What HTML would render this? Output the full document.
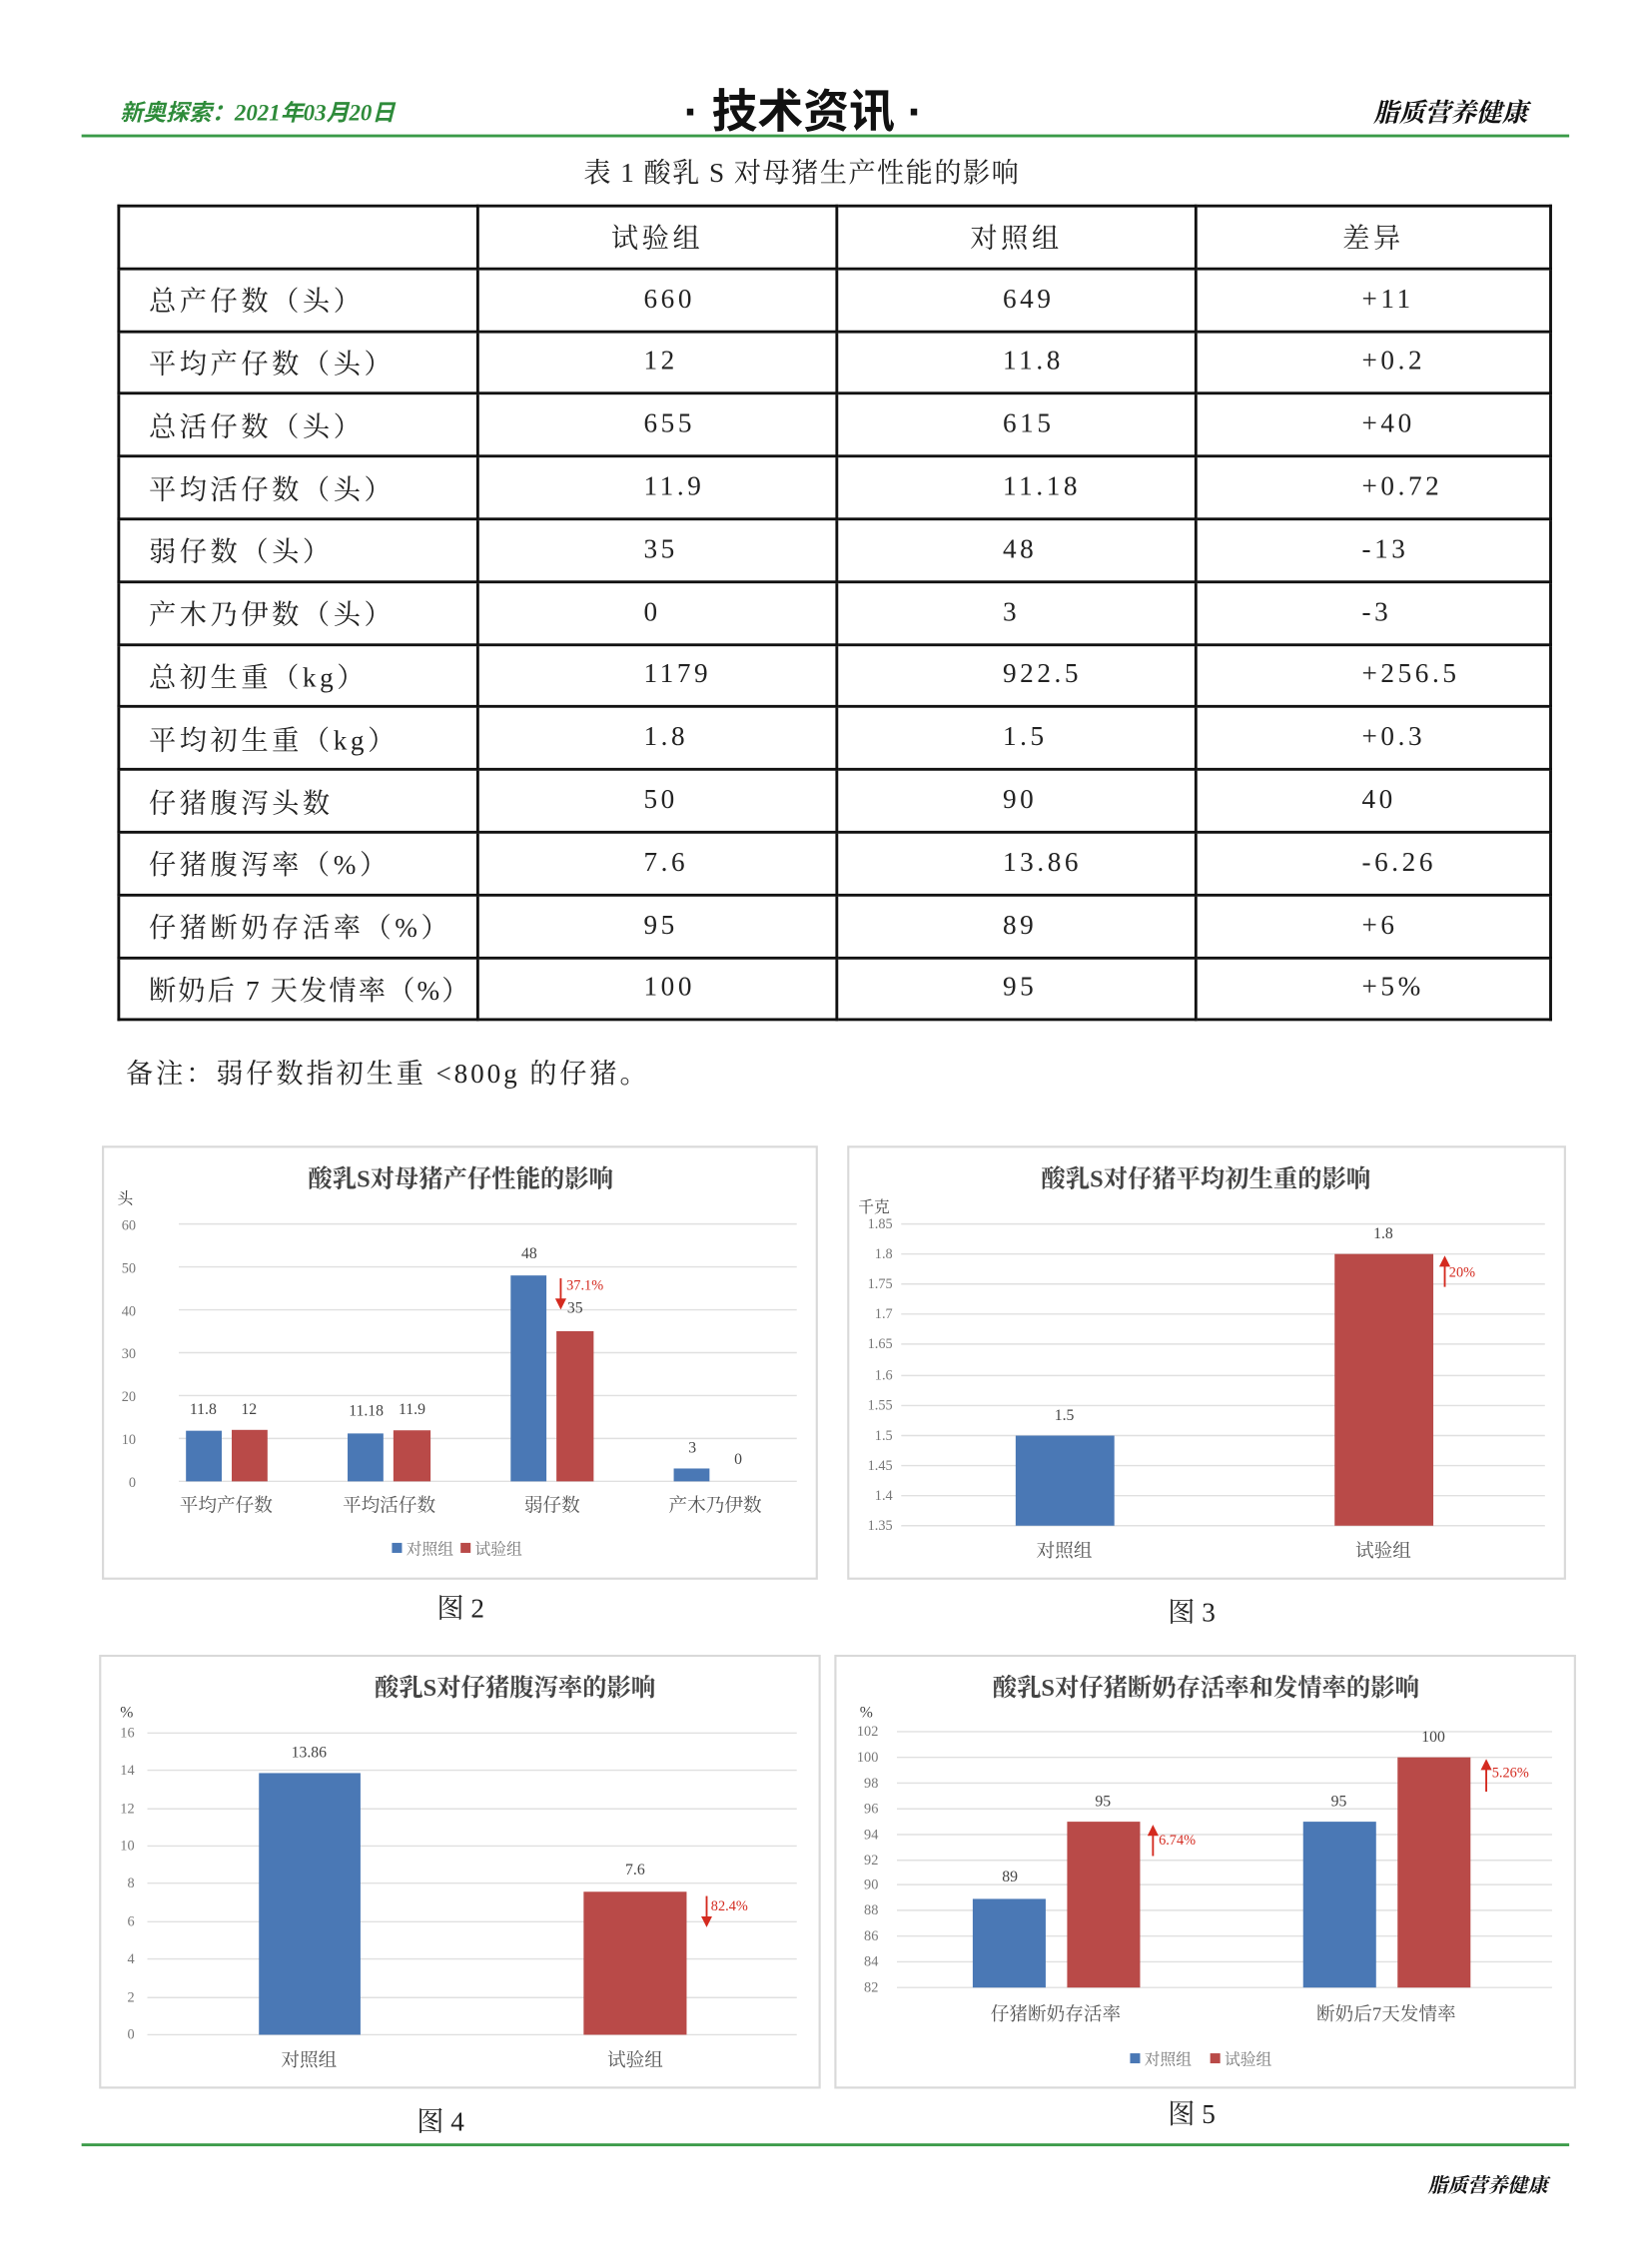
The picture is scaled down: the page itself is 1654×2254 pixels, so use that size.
<!DOCTYPE html>
<html><head><meta charset="utf-8">
<style>
html,body{margin:0;padding:0;background:#fff;}
body{width:1654px;height:2245px;overflow:hidden;position:relative;}
#w{position:absolute;left:0;top:0;width:1160px;height:1574px;transform:scale(1.4322,1.4318);transform-origin:0 0;font-family:"Liberation Serif","Noto Serif CJK SC",serif;color:#222;}
.a{position:absolute;white-space:nowrap;}
table{position:absolute;left:82px;top:143px;width:1003px;border-collapse:collapse;table-layout:fixed;}
tr{height:43.8px;}
td{border:2px solid #111;font-size:19px;letter-spacing:2.5px;padding:0;white-space:nowrap;overflow:hidden;}
td.l{padding-left:20px;}
td.v{padding-left:115px;}
tr.h td{text-align:center;}
svg{position:absolute;left:0;top:0;}
</style></head><body><div id="w">
<div class="a" style="left:84px;top:65px;font-size:16px;color:#2e8b3a;font-style:italic;font-weight:bold;font-family:'Liberation Serif','Noto Sans CJK SC',serif;">新奥探索：2021年03月20日</div>
<div class="a" style="left:478px;top:53px;font-size:32px;font-weight:bold;font-family:'Liberation Sans','Noto Sans CJK SC',sans-serif;color:#111;">· 技术资讯 ·</div>
<div class="a" style="left:960px;top:65px;font-size:18px;font-style:italic;font-weight:bold;color:#111;">脂质营养健康</div>
<div class="a" style="left:57px;top:94px;width:1040px;height:2px;background:#3a9a48;"></div>
<div class="a" style="left:408px;top:106px;font-size:19px;letter-spacing:1px;">表 1 酸乳 S 对母猪生产性能的影响</div>
<table>
<colgroup><col style="width:251px"><col style="width:251px"><col style="width:251px"><col></colgroup>
<tr class="h"><td></td><td>试验组</td><td>对照组</td><td>差异</td></tr>
<tr><td class="l">总产仔数（头）</td><td class="v">660</td><td class="v">649</td><td class="v">+11</td></tr>
<tr><td class="l">平均产仔数（头）</td><td class="v">12</td><td class="v">11.8</td><td class="v">+0.2</td></tr>
<tr><td class="l">总活仔数（头）</td><td class="v">655</td><td class="v">615</td><td class="v">+40</td></tr>
<tr><td class="l">平均活仔数（头）</td><td class="v">11.9</td><td class="v">11.18</td><td class="v">+0.72</td></tr>
<tr><td class="l">弱仔数（头）</td><td class="v">35</td><td class="v">48</td><td class="v">-13</td></tr>
<tr><td class="l">产木乃伊数（头）</td><td class="v">0</td><td class="v">3</td><td class="v">-3</td></tr>
<tr><td class="l">总初生重（kg）</td><td class="v">1179</td><td class="v">922.5</td><td class="v">+256.5</td></tr>
<tr><td class="l">平均初生重（kg）</td><td class="v">1.8</td><td class="v">1.5</td><td class="v">+0.3</td></tr>
<tr><td class="l">仔猪腹泻头数</td><td class="v">50</td><td class="v">90</td><td class="v">40</td></tr>
<tr><td class="l">仔猪腹泻率（%）</td><td class="v">7.6</td><td class="v">13.86</td><td class="v">-6.26</td></tr>
<tr><td class="l">仔猪断奶存活率（%）</td><td class="v">95</td><td class="v">89</td><td class="v">+6</td></tr>
<tr><td class="l" style="letter-spacing:1.5px">断奶后 7 天发情率（%）</td><td class="v">100</td><td class="v">95</td><td class="v">+5%</td></tr>
</table>
<div class="a" style="left:88px;top:736px;font-size:19px;letter-spacing:2px;">备注：弱仔数指初生重 &lt;800g 的仔猪。</div>

<svg width="1160" height="1574" viewBox="0 0 1160 1574" font-family="Liberation Serif, Noto Serif CJK SC, serif">
<defs><marker id="ar" markerWidth="6" markerHeight="6" refX="3" refY="3" orient="auto"><path d="M0,0 L6,3 L0,6 z" fill="#d42a1f"/></marker></defs>
<g fill="none" stroke="#d9d9d9" stroke-width="1.5">
<rect x="72" y="802" width="499" height="302"/>
<rect x="593" y="802" width="501" height="302"/>
<rect x="70" y="1158" width="503" height="302"/>
<rect x="584" y="1158" width="517" height="302"/>
</g>
<!-- chart 2 -->
<text x="322" y="830" font-size="17" text-anchor="middle" fill="#444" font-weight="bold">酸乳S对母猪产仔性能的影响</text>
<text x="82" y="842" font-size="11" fill="#444">头</text>
<g stroke="#e0e0e0" stroke-width="1">
<line x1="125" y1="856" x2="557" y2="856"/><line x1="125" y1="886" x2="557" y2="886"/><line x1="125" y1="916" x2="557" y2="916"/><line x1="125" y1="946" x2="557" y2="946"/><line x1="125" y1="976" x2="557" y2="976"/><line x1="125" y1="1006" x2="557" y2="1006"/><line x1="125" y1="1036" x2="557" y2="1036"/></g>
<g font-size="10" fill="#777" text-anchor="end">
<text x="95" y="860">60</text><text x="95" y="890">50</text><text x="95" y="920">40</text><text x="95" y="950">30</text><text x="95" y="980">20</text><text x="95" y="1010">10</text><text x="95" y="1040">0</text></g>
<g fill="#4a78b5"><rect x="130" y="1000.6" width="25" height="35.4"/><rect x="243" y="1002.5" width="25" height="33.5"/><rect x="357" y="892" width="25" height="144"/><rect x="471" y="1027" width="25" height="9"/></g>
<g fill="#b94a48"><rect x="162" y="1000" width="25" height="36"/><rect x="275" y="1000.3" width="26" height="35.7"/><rect x="389" y="931" width="26" height="105"/></g>
<g font-size="11" fill="#444" text-anchor="middle">
<text x="142" y="989">11.8</text><text x="174" y="989">12</text><text x="256" y="990">11.18</text><text x="288" y="989">11.9</text><text x="370" y="880">48</text><text x="402" y="918">35</text><text x="484" y="1016">3</text><text x="516" y="1024">0</text></g>
<line x1="392" y1="894" x2="392" y2="912" stroke="#d42a1f" stroke-width="1.3" marker-end="url(#ar)"/>
<text x="396" y="902" font-size="10" fill="#d42a1f">37.1%</text>
<g font-size="13" fill="#555" text-anchor="middle"><text x="158" y="1057">平均产仔数</text><text x="272" y="1057">平均活仔数</text><text x="386" y="1057">弱仔数</text><text x="500" y="1057">产木乃伊数</text></g>
<rect x="274" y="1079" width="7" height="7" fill="#4a78b5"/><text x="284" y="1087" font-size="11" fill="#777">对照组</text>
<rect x="322" y="1079" width="7" height="7" fill="#b94a48"/><text x="332" y="1087" font-size="11" fill="#777">试验组</text>
<text x="322" y="1131" font-size="19" text-anchor="middle" fill="#222">图 2</text>
<!-- chart 3 -->
<text x="843" y="830" font-size="17" text-anchor="middle" fill="#444" font-weight="bold">酸乳S对仔猪平均初生重的影响</text>
<text x="600" y="848" font-size="11" fill="#444">千克</text>
<g stroke="#e0e0e0"><line x1="630" y1="856" x2="1080" y2="856"/><line x1="630" y1="877" x2="1080" y2="877"/><line x1="630" y1="898" x2="1080" y2="898"/><line x1="630" y1="919" x2="1080" y2="919"/><line x1="630" y1="940" x2="1080" y2="940"/><line x1="630" y1="962" x2="1080" y2="962"/><line x1="630" y1="983" x2="1080" y2="983"/><line x1="630" y1="1004" x2="1080" y2="1004"/><line x1="630" y1="1025" x2="1080" y2="1025"/><line x1="630" y1="1046" x2="1080" y2="1046"/><line x1="630" y1="1067" x2="1080" y2="1067"/></g>
<g font-size="10" fill="#777" text-anchor="end"><text x="624" y="859">1.85</text><text x="624" y="880">1.8</text><text x="624" y="901">1.75</text><text x="624" y="922">1.7</text><text x="624" y="943">1.65</text><text x="624" y="965">1.6</text><text x="624" y="986">1.55</text><text x="624" y="1007">1.5</text><text x="624" y="1028">1.45</text><text x="624" y="1049">1.4</text><text x="624" y="1070">1.35</text></g>
<rect x="710" y="1004" width="69" height="63" fill="#4a78b5"/>
<rect x="933" y="877" width="69" height="190" fill="#b94a48"/>
<text x="744" y="993" font-size="11" fill="#444" text-anchor="middle">1.5</text>
<text x="967" y="866" font-size="11" fill="#444" text-anchor="middle">1.8</text>
<line x1="1010" y1="900" x2="1010" y2="882" stroke="#d42a1f" stroke-width="1.3" marker-end="url(#ar)"/>
<text x="1013" y="893" font-size="10" fill="#d42a1f">20%</text>
<g font-size="13" fill="#555" text-anchor="middle"><text x="744" y="1089">对照组</text><text x="967" y="1089">试验组</text></g>
<text x="833" y="1134" font-size="19" text-anchor="middle" fill="#222">图 3</text>
<!-- chart 4 -->
<text x="360" y="1186" font-size="17" text-anchor="middle" fill="#444" font-weight="bold">酸乳S对仔猪腹泻率的影响</text>
<text x="84" y="1201" font-size="11" fill="#444">%</text>
<g stroke="#e0e0e0"><line x1="103" y1="1212" x2="557" y2="1212"/><line x1="103" y1="1238" x2="557" y2="1238"/><line x1="103" y1="1265" x2="557" y2="1265"/><line x1="103" y1="1291" x2="557" y2="1291"/><line x1="103" y1="1317" x2="557" y2="1317"/><line x1="103" y1="1344" x2="557" y2="1344"/><line x1="103" y1="1370" x2="557" y2="1370"/><line x1="103" y1="1397" x2="557" y2="1397"/><line x1="103" y1="1423" x2="557" y2="1423"/></g>
<g font-size="10" fill="#777" text-anchor="end"><text x="94" y="1215">16</text><text x="94" y="1241">14</text><text x="94" y="1268">12</text><text x="94" y="1294">10</text><text x="94" y="1320">8</text><text x="94" y="1347">6</text><text x="94" y="1373">4</text><text x="94" y="1400">2</text><text x="94" y="1426">0</text></g>
<rect x="181" y="1240" width="71" height="183" fill="#4a78b5"/>
<rect x="408" y="1323" width="72" height="100" fill="#b94a48"/>
<text x="216" y="1229" font-size="11" fill="#444" text-anchor="middle">13.86</text>
<text x="444" y="1311" font-size="11" fill="#444" text-anchor="middle">7.6</text>
<line x1="494" y1="1326" x2="494" y2="1344" stroke="#d42a1f" stroke-width="1.3" marker-end="url(#ar)"/>
<text x="497" y="1336" font-size="10" fill="#d42a1f">82.4%</text>
<g font-size="13" fill="#555" text-anchor="middle"><text x="216" y="1445">对照组</text><text x="444" y="1445">试验组</text></g>
<text x="308" y="1490" font-size="19" text-anchor="middle" fill="#222">图 4</text>
<!-- chart 5 -->
<text x="843" y="1186" font-size="17" text-anchor="middle" fill="#444" font-weight="bold">酸乳S对仔猪断奶存活率和发情率的影响</text>
<text x="601" y="1201" font-size="11" fill="#444">%</text>
<g stroke="#e0e0e0"><line x1="627" y1="1211" x2="1085" y2="1211"/><line x1="627" y1="1229" x2="1085" y2="1229"/><line x1="627" y1="1247" x2="1085" y2="1247"/><line x1="627" y1="1265" x2="1085" y2="1265"/><line x1="627" y1="1283" x2="1085" y2="1283"/><line x1="627" y1="1301" x2="1085" y2="1301"/><line x1="627" y1="1318" x2="1085" y2="1318"/><line x1="627" y1="1336" x2="1085" y2="1336"/><line x1="627" y1="1354" x2="1085" y2="1354"/><line x1="627" y1="1372" x2="1085" y2="1372"/><line x1="627" y1="1390" x2="1085" y2="1390"/></g>
<g font-size="10" fill="#777" text-anchor="end"><text x="614" y="1214">102</text><text x="614" y="1232">100</text><text x="614" y="1250">98</text><text x="614" y="1268">96</text><text x="614" y="1286">94</text><text x="614" y="1304">92</text><text x="614" y="1321">90</text><text x="614" y="1339">88</text><text x="614" y="1357">86</text><text x="614" y="1375">84</text><text x="614" y="1393">82</text></g>
<g fill="#4a78b5"><rect x="680" y="1328" width="51" height="62"/><rect x="911" y="1274" width="51" height="116"/></g>
<g fill="#b94a48"><rect x="746" y="1274" width="51" height="116"/><rect x="977" y="1229" width="51" height="161"/></g>
<g font-size="11" fill="#444" text-anchor="middle"><text x="706" y="1316">89</text><text x="771" y="1263">95</text><text x="936" y="1263">95</text><text x="1002" y="1218">100</text></g>
<line x1="806" y1="1298" x2="806" y2="1280" stroke="#d42a1f" stroke-width="1.3" marker-end="url(#ar)"/>
<text x="810" y="1290" font-size="10" fill="#d42a1f">6.74%</text>
<line x1="1039" y1="1253" x2="1039" y2="1234" stroke="#d42a1f" stroke-width="1.3" marker-end="url(#ar)"/>
<text x="1043" y="1243" font-size="10" fill="#d42a1f">5.26%</text>
<g font-size="13" fill="#555" text-anchor="middle"><text x="738" y="1413">仔猪断奶存活率</text><text x="969" y="1413">断奶后7天发情率</text></g>
<rect x="790" y="1436" width="7" height="7" fill="#4a78b5"/><text x="800" y="1444" font-size="11" fill="#777">对照组</text>
<rect x="846" y="1436" width="7" height="7" fill="#b94a48"/><text x="856" y="1444" font-size="11" fill="#777">试验组</text>
<text x="833" y="1485" font-size="19" text-anchor="middle" fill="#222">图 5</text>
</svg>
<div class="a" style="left:57px;top:1499px;width:1040px;height:2px;background:#3a9a48;"></div>
<div class="a" style="left:998px;top:1518px;font-size:14px;font-style:italic;font-weight:bold;color:#111;">脂质营养健康</div>
</div></body></html>
